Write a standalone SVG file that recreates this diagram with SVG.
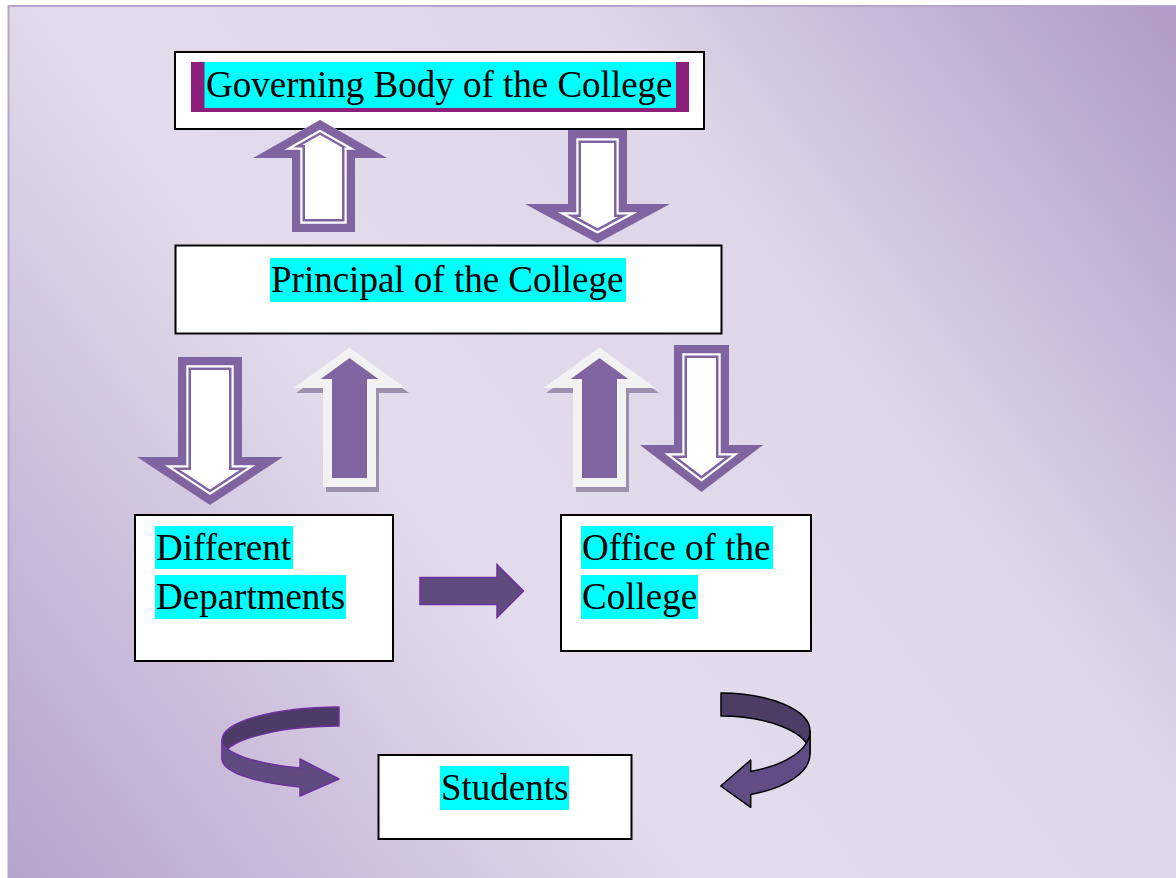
<svg xmlns="http://www.w3.org/2000/svg" width="1176" height="878" viewBox="0 0 1176 878">
<style>
.box{fill:#fff;stroke:#000;stroke-width:2}
.hl{fill:#00ffff}
.t{font-family:"Liberation Serif","Times New Roman",serif;font-size:37px;fill:#000}
.hp{stroke-linejoin:miter;stroke-miterlimit:10}
.p{stroke:#8064a2}
.w{stroke:#fff;fill:none}
</style>
<defs>
<linearGradient id="bg" gradientUnits="userSpaceOnUse" x1="1176" y1="0" x2="8" y2="878">
<stop offset="0" stop-color="#ae9ac6"/>
<stop offset="0.33" stop-color="#dfd7e9"/>
<stop offset="0.62" stop-color="#e3dcec"/>
<stop offset="1" stop-color="#b6a3cb"/>
</linearGradient>
<path id="pA1" d="M320,120 L387,158 L355,158 L355,232 L292,232 L292,158 L253,158 Z"/>
<path id="pA2" d="M568,130 L627,130 L627,204 L670,204 L597.5,243 L525,204 L568,204 Z"/>
<path id="pA3" d="M178,357 L242,357 L242,457 L283,457 L210,505 L137,457 L178,457 Z"/>
<path id="pA4" d="M674,345 L729,345 L729,445 L763,445 L701.5,492 L640,445 L674,445 Z"/>
<path id="pB1" d="M349.5,347 L406,388 L376,388 L376,487 L323,487 L323,388 L293,388 Z"/>
<path id="pB2" d="M599.5,347 L656,388 L626,388 L626,487 L573,487 L573,388 L543,388 Z"/>
<clipPath id="cA1"><use href="#pA1"/></clipPath>
<clipPath id="cA2"><use href="#pA2"/></clipPath>
<clipPath id="cA3"><use href="#pA3"/></clipPath>
<clipPath id="cA4"><use href="#pA4"/></clipPath>
<clipPath id="cB1"><use href="#pB1"/></clipPath>
<clipPath id="cB2"><use href="#pB2"/></clipPath>
</defs>

<rect x="0" y="0" width="1176" height="878" fill="#fff"/>
<rect x="8.5" y="6" width="1170" height="876" fill="url(#bg)" stroke="#b5a5cd" stroke-width="2"/>

<g id="governing">
  <rect class="box" x="175" y="52" width="529" height="77"/>
  <rect x="191" y="62" width="498" height="50" fill="#8b1f7a"/>
  <rect class="hl" x="204.5" y="62" width="471.5" height="46"/>
  <text class="t" x="206" y="97">Governing Body of the College</text>
</g>
<g id="principal">
  <rect class="box" x="175.5" y="245.5" width="546" height="88"/>
  <rect class="hl" x="270" y="258" width="356" height="44"/>
  <text class="t" x="271" y="292">Principal of the College</text>
</g>
<g id="departments">
  <rect class="box" x="135" y="515" width="258" height="146"/>
  <rect class="hl" x="155" y="526" width="138" height="43"/>
  <rect class="hl" x="155" y="575" width="191" height="44"/>
  <text class="t" x="156" y="560">Different</text>
  <text class="t" x="156" y="609">Departments</text>
</g>
<g id="office">
  <rect class="box" x="561" y="515" width="250" height="136"/>
  <rect class="hl" x="581" y="526" width="192" height="43"/>
  <rect class="hl" x="581" y="575" width="117" height="44"/>
  <text class="t" x="582" y="560">Office of the</text>
  <text class="t" x="582" y="609">College</text>
</g>
<g id="students">
  <rect class="box" x="378.5" y="755" width="253" height="84"/>
  <rect class="hl" x="440" y="766" width="129" height="44"/>
  <text class="t" x="441" y="800">Students</text>
</g>

<g id="connectors">
  <g id="arrow-up-top" class="hp" clip-path="url(#cA1)">
    <use href="#pA1" fill="#fff" class="p" stroke-width="26"/>
    <use href="#pA1" class="w" stroke-width="21"/>
    <use href="#pA1" fill="none" class="p" stroke-width="16.6"/>
  </g>
  <g id="arrow-down-top" class="hp" clip-path="url(#cA2)">
    <use href="#pA2" fill="#fff" class="p" stroke-width="26"/>
    <use href="#pA2" class="w" stroke-width="21"/>
    <use href="#pA2" fill="none" class="p" stroke-width="16.6"/>
  </g>
  <g id="arrow-down-left" class="hp" clip-path="url(#cA3)">
    <use href="#pA3" fill="#fff" class="p" stroke-width="26"/>
    <use href="#pA3" class="w" stroke-width="21"/>
    <use href="#pA3" fill="none" class="p" stroke-width="16.6"/>
  </g>
  <g id="arrow-down-right" class="hp" clip-path="url(#cA4)">
    <use href="#pA4" fill="#fff" class="p" stroke-width="26"/>
    <use href="#pA4" class="w" stroke-width="21"/>
    <use href="#pA4" fill="none" class="p" stroke-width="16.6"/>
  </g>
  <g id="arrow-up-left">
    <use href="#pB1" fill="#9d90ad" transform="translate(3,5)"/>
    <g class="hp" clip-path="url(#cB1)"><use href="#pB1" fill="#8064a2" stroke="#f2f2f2" stroke-width="18"/></g>
  </g>
  <g id="arrow-up-right">
    <use href="#pB2" fill="#9d90ad" transform="translate(3,5)"/>
    <g class="hp" clip-path="url(#cB2)"><use href="#pB2" fill="#8064a2" stroke="#f2f2f2" stroke-width="18"/></g>
  </g>
  <path id="arrow-right" d="M420,577.5 L497,577.5 L497,564.5 L523.5,591 L497,617.5 L497,604.5 L420,604.5 Z" fill="#5f4b7e" stroke="#7030a0" stroke-width="1.5"/>
  <g id="curved-left" stroke="#7030a0" stroke-width="1.5" stroke-linejoin="round">
    <path d="M339,707 A 118 33 0 0 0 222,740 L222,759 A 118 33 0 0 1 339,726 Z" fill="#4b3b66"/>
    <path d="M222,740 A 118 30 0 0 0 300,768 L300,759 L339,779 L300,796 L300,787 A 118 30 0 0 1 222,759 Z" fill="#5f4b80"/>
  </g>
  <g id="curved-right" stroke="#000" stroke-width="1.5" stroke-linejoin="round">
    <path d="M721,693 A 90 38 0 0 1 810,731 L810,754 A 90 38 0 0 0 721,716 Z" fill="#4d3d66"/>
    <path d="M810,731 A 90 43 0 0 1 750.7,771.4 L750.7,760 L720.7,786 L750.7,807.3 L750.7,794.4 A 90 43 0 0 0 810,754 Z" fill="#614c85"/>
  </g>
</g>
</svg>
